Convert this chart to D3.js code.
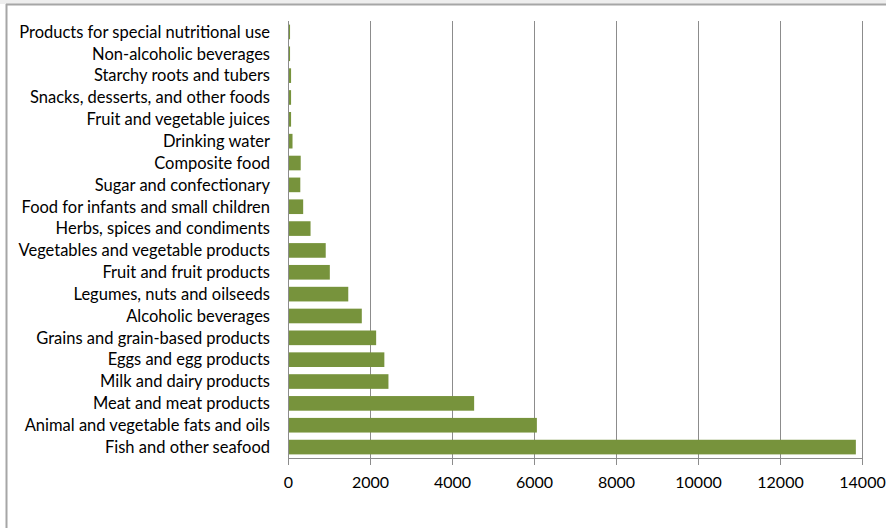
<!DOCTYPE html>
<html>
<head>
<meta charset="utf-8">
<script src="https://cdn.jsdelivr.net/npm/d3@7"></script>
<style>
  html, body { margin: 0; padding: 0; background: #fff; }
  svg { display: block; }
</style>
</head>
<body>
<svg id="chart" width="886" height="528"></svg>
<script>
// Food categories, top to bottom
const categories = [
  "Products for special nutritional use",
  "Non-alcoholic beverages",
  "Starchy roots and tubers",
  "Snacks, desserts, and other foods",
  "Fruit and vegetable juices",
  "Drinking water",
  "Composite food",
  "Sugar and confectionary",
  "Food for infants and small children",
  "Herbs, spices and condiments",
  "Vegetables and vegetable products",
  "Fruit and fruit products",
  "Legumes, nuts and oilseeds",
  "Alcoholic beverages",
  "Grains and grain-based products",
  "Eggs and egg products",
  "Milk and dairy products",
  "Meat and meat products",
  "Animal and vegetable fats and oils",
  "Fish and other seafood"
];
const values = [
  50, 50, 75, 75, 75, 110, 310, 300, 370, 550,
  920, 1020, 1470, 1800, 2150, 2350, 2450, 4540, 6070, 13850
];
const xTicks = [0, 2000, 4000, 6000, 8000, 10000, 12000, 14000];

const svg = d3.select("#chart");
const font = "Lato, 'Open Sans', sans-serif";

// outer frame
svg.append("rect").attr("x", 0).attr("y", 0).attr("width", 886).attr("height", 4)
  .attr("fill", "#eeeeee");
svg.append("line").attr("x1", 6).attr("x2", 886).attr("y1", 4.5).attr("y2", 4.5)
  .attr("stroke", "#a6a6a6").attr("stroke-width", 2);
svg.append("line").attr("x1", 6.5).attr("x2", 6.5).attr("y1", 4).attr("y2", 528)
  .attr("stroke", "#a6a6a6").attr("stroke-width", 2);

const plotLeft = 288, plotRight = 862, plotTop = 21, plotBottom = 458;

const x = d3.scaleLinear().domain([0, 14000]).range([plotLeft, plotRight]);
const y = d3.scaleBand().domain(categories).range([plotTop, plotBottom])
  .paddingInner(0.33).paddingOuter(0.165);

// vertical gridlines
svg.append("g").selectAll("line").data(xTicks.slice(1)).join("line")
  .attr("x1", d => Math.round(x(d)) + 0.5).attr("x2", d => Math.round(x(d)) + 0.5)
  .attr("y1", plotTop).attr("y2", plotBottom)
  .attr("stroke", "#8c8c8c").attr("stroke-width", 1);

// bars
svg.append("g").selectAll("rect").data(categories).join("rect")
  .attr("x", x(0))
  .attr("y", d => y(d))
  .attr("width", (d, i) => Math.max(0, x(values[i]) - x(0)))
  .attr("height", y.bandwidth())
  .attr("fill", "#77933c");

// bottom axis
const xAxis = d3.axisBottom(x).tickValues(xTicks).tickSize(7).tickPadding(12)
  .tickFormat(d3.format("d"));
const gx = svg.append("g").attr("transform", `translate(0,${plotBottom})`).call(xAxis);
gx.select(".domain").attr("stroke", "#8c8c8c").attr("d", `M${plotLeft},0.5H${plotRight}`);
gx.selectAll(".tick line").attr("stroke", "#8c8c8c");
gx.selectAll(".tick text").attr("font-family", font).attr("font-size", 16).attr("fill", "#000");

// left axis line
svg.append("line").attr("x1", plotLeft + 0.5).attr("x2", plotLeft + 0.5)
  .attr("y1", plotTop).attr("y2", plotBottom)
  .attr("stroke", "#8c8c8c");

// category labels
svg.append("g").selectAll("text").data(categories).join("text")
  .attr("x", 270)
  .attr("y", d => y(d) + y.bandwidth() / 2)
  .attr("dy", "0.35em")
  .attr("text-anchor", "end")
  .attr("font-family", font).attr("font-size", 16.5).attr("fill", "#000")
  .text(d => d);
</script>
</body>
</html>
